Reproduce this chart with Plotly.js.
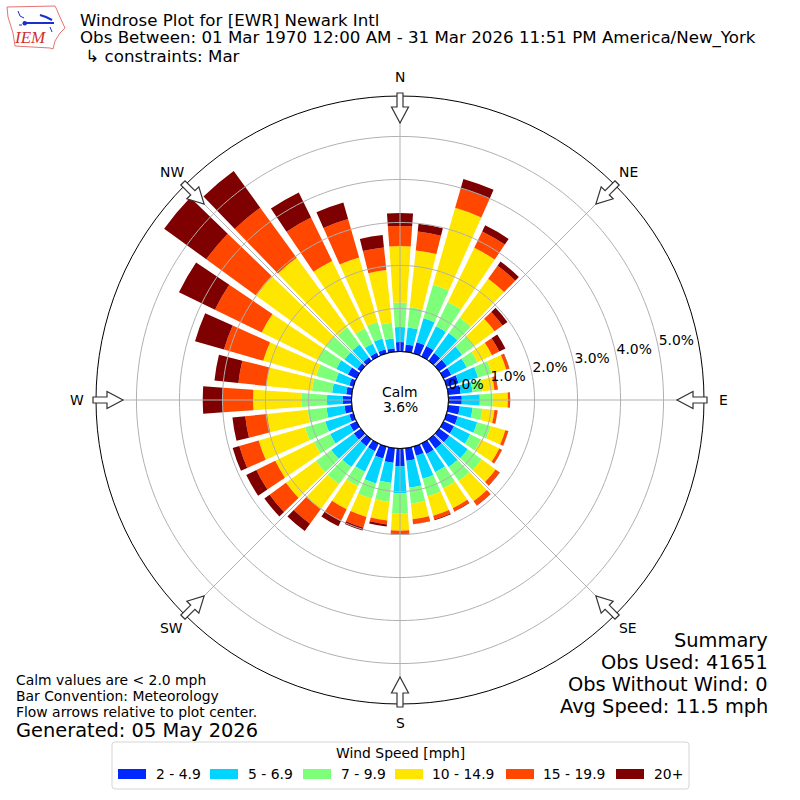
<!DOCTYPE html>
<html>
<head>
<meta charset="utf-8">
<script src="https://cdn.plot.ly/plotly-3.0.1.min.js"></script>
<style>html,body{margin:0;padding:0;background:#fff}</style>
</head>
<body>
<div id="myDiv" style="width:800px;height:800px"></div>
<script>
// direction the wind is from, every 10 degrees starting at north
var directions = [0,10,20,30,40,50,60,70,80,90,100,110,120,130,140,150,160,170,180,190,200,210,220,230,240,250,260,270,280,290,300,310,320,330,340,350];

var speed2to5 = [.22,.17,.27,.27,.22,.22,.20,.29,.29,.31,.27,.27,.27,.29,.27,.27,.22,.29,.41,.34,.29,.20,.20,.20,.17,.10,.17,.20,.13,.10,.22,.10,.10,.10,.10,.08];
var speed5to7 = [.35,.40,.58,.51,.58,.44,.40,.47,.28,.42,.30,.47,.42,.53,.53,.47,.56,.63,.63,.47,.60,.53,.60,.65,.51,.58,.42,.37,.33,.33,.30,.37,.37,.23,.26,.23];
var speed7to10 = [.57,.47,.81,.63,.44,.35,.28,.33,.23,.30,.23,.33,.28,.40,.40,.42,.42,.37,.47,.44,.37,.37,.49,.44,.42,.49,.44,.60,.47,.47,.49,.53,.49,.40,.40,.37];
var speed10to15 = [1.31,1.33,1.86,1.40,1.12,.58,.37,.35,.28,.35,.28,.35,.47,.40,.58,.51,.47,.37,.40,.44,.44,.60,.72,.86,1.00,1.12,.95,1.12,1.07,1.28,1.44,2.02,2.00,1.74,1.56,1.23];
var speed15to20 = [.47,.44,.47,.42,.37,.23,.19,.07,.07,.05,.07,.07,.07,.11,.12,.08,.09,.11,.09,.09,.26,.30,.42,.47,.49,.47,.51,.70,.65,.95,1.21,1.42,1.44,1.12,.93,.53];
var speed20up = [.30,.18,.23,.16,.12,.14,.16,.01,.01,.005,.005,.005,.005,.01,.01,.01,.02,.005,.005,.05,.07,.14,.21,.15,.26,.16,.30,.47,.56,.70,.93,1.21,1.05,.65,.40,.29];

var speedLabels = ['2 - 4.9','5 - 6.9','7 - 9.9','10 - 14.9','15 - 19.9','20+'];
var speedColors = ['#0028ff','#00d4ff','#7dff7a','#ffe600','#ff4700','#7f0000'];
var speedSeries = [speed2to5,speed5to7,speed7to10,speed10to15,speed15to20,speed20up];

var radialTicks = [0,1,2,3,4,5];
var compassAngles = [0,45,90,135,180,225,270,315];
var compassLabels = ['N','NE','E','SE','S','SW','W','NW'];

var titleLines = ['Windrose Plot for [EWR] Newark Intl','Obs Between: 01 Mar 1970 12:00 AM - 31 Mar 2026 11:51 PM America/New_York',' \u21b3 constraints: Mar'];
var summaryLines = ['Summary','Obs Used: 41651','Obs Without Wind: 0','Avg Speed: 11.5 mph'];
var noteLines = ['Calm values are < 2.0 mph','Bar Convention: Meteorology','Flow arrows relative to plot center.'];

var FONT = 'DejaVu Sans';
var CX = 400, CY = 400, RMAX = 304, RHOLE = 48.5, PCTMAX = 5.94;
var GRID = '#b0b0b0';

function px(x) { return x / 800; }
function py(y) { return 1 - y / 800; }

function label(text, x, y, size, anchor, extra) {
  var a = {text: text.replace(/ /g, '\u00a0'), xref: 'paper', yref: 'paper', x: px(x), y: py(y), showarrow: false,
    borderpad: 0, borderwidth: 0,
    xanchor: anchor || 'left', yanchor: 'middle', font: {family: FONT, size: size, color: '#000'}};
  for (var k in extra) a[k] = extra[k];
  return a;
}

var data = [];

speedSeries.forEach(function (vals, i) {
  data.push({
    type: 'barpolar', name: speedLabels[i], r: vals, theta: directions,
    width: directions.map(function () { return 8; }),
    marker: {color: speedColors[i], line: {width: 0}},
    showlegend: false, hoverinfo: 'name+r'
  });
});

// grid goes in as traces, the reference has it on top of the bars
var ringR = [], ringT = [];
radialTicks.slice(1).forEach(function (t) {
  for (var a = 0; a <= 360; a += 2) { ringR.push(t); ringT.push(a); }
  ringR.push(null); ringT.push(null);
});
compassAngles.forEach(function (a) {
  ringR.push(0, PCTMAX, null);
  ringT.push(a, a, null);
});
data.push({type: 'scatterpolar', mode: 'lines', r: ringR, theta: ringT, connectgaps: false,
  line: {color: GRID, width: 1}, showlegend: false, hoverinfo: 'skip'});

// black circle around the calm hole
var holeT = [];
for (var a = 0; a <= 360; a += 2) holeT.push(a);
data.push({type: 'scatterpolar', mode: 'lines', r: holeT.map(function () { return 0; }), theta: holeT,
  line: {color: '#000', width: 1}, showlegend: false, hoverinfo: 'skip'});

data.push({type: 'scatterpolar', mode: 'text',
  r: radialTicks.map(function (t) { return t + 0.44; }),
  theta: radialTicks.map(function () { return 78; }),
  text: radialTicks.map(function (t) { return t.toFixed(1) + '%'; }),
  textfont: {family: FONT, size: 13.9, color: '#000'},
  showlegend: false, hoverinfo: 'skip'});

// flow arrows, drawn in pixels around the plot centre
var arrowShape = [[-3,307],[3,307],[3,293],[8.5,293],[0,277],[-8.5,293],[-3,293]];
var shapes = compassAngles.map(function (deg) {
  var rad = deg * Math.PI / 180, s = Math.sin(rad), c = Math.cos(rad);
  var d = arrowShape.map(function (p, i) {
    var x = CX + p[1] * s + p[0] * c, y = CY - p[1] * c + p[0] * s;
    return (i ? 'L' : 'M') + px(x) + ',' + py(y);
  }).join('') + 'Z';
  return {type: 'path', xref: 'paper', yref: 'paper', path: d, fillcolor: '#fff', line: {color: '#333', width: 1.2}};
});

// legend box, plotly's own legend only has small square swatches
var legendSwatchX = [118,210,303,395,506,616];
var legendTextX = [155.5,247.7,340.7,432,542.8,653.8];
shapes.push({type: 'path', xref: 'paper', yref: 'paper', line: {color: '#d5d5d5', width: 1}, fillcolor: '#fff',
  path: 'M' + px(115) + ',' + py(742) + 'L' + px(686) + ',' + py(742) + 'Q' + px(689) + ',' + py(742) + ' ' + px(689) + ',' + py(745) +
    'L' + px(689) + ',' + py(786) + 'Q' + px(689) + ',' + py(789) + ' ' + px(686) + ',' + py(789) +
    'L' + px(115) + ',' + py(789) + 'Q' + px(112) + ',' + py(789) + ' ' + px(112) + ',' + py(786) +
    'L' + px(112) + ',' + py(745) + 'Q' + px(112) + ',' + py(742) + ' ' + px(115) + ',' + py(742) + 'Z'});
speedColors.forEach(function (col, i) {
  shapes.push({type: 'rect', xref: 'paper', yref: 'paper', x0: px(legendSwatchX[i]), x1: px(legendSwatchX[i] + 28),
    y0: py(769), y1: py(779), fillcolor: col, line: {width: 0}});
});

// IEM logo
function logoPath(pts) {
  return pts.map(function (p, i) { return (i ? 'L' : 'M') + px(p[0]) + ',' + py(p[1]); }).join('');
}
shapes.push({type: 'path', xref: 'paper', yref: 'paper', line: {color: '#e57373', width: 1},
  path: logoPath([[7,7],[55,6],[57,10],[59,15],[65,28],[60,33],[55,41],[53,49],[50,48],[15,46],[13,33],[8,17]]) + 'Z'});
shapes.push({type: 'path', xref: 'paper', yref: 'paper', line: {color: '#1a2fd0', width: 2},
  path: logoPath([[25,23],[54,23]])});
shapes.push({type: 'path', xref: 'paper', yref: 'paper', line: {color: '#1a2fd0', width: 2},
  path: logoPath([[40,15],[46,17],[52,20]])});
shapes.push({type: 'path', xref: 'paper', yref: 'paper', line: {color: '#1a2fd0', width: 1},
  path: logoPath([[18,11],[20,16],[24,18]]) + logoPath([[50,27],[52,32]]) + logoPath([[19,25],[22,25]])});
shapes.push({type: 'circle', xref: 'paper', yref: 'paper', x0: px(22.5), x1: px(27), y0: py(21), y1: py(25.5), fillcolor: '#1a2fd0', line: {width: 0}});

var annotations = [];
titleLines.forEach(function (t, i) { annotations.push(label(t, 80, 20 + i * 18, 16.67)); });
summaryLines.forEach(function (t, i) { annotations.push(label(t, 768, 640 + i * 22, 19.4, 'right')); });
noteLines.forEach(function (t, i) { annotations.push(label(t, 16, 680 + i * 16, 13.9)); });
annotations.push(label('Generated: 05 May 2026', 16, 730, 19.4));
annotations.push(label('Calm', 400, 392, 13.9, 'center'));
annotations.push(label('3.6%', 400, 407, 13.9, 'center'));
annotations.push(label('Wind Speed [mph]', 400, 753, 13.9, 'center'));
speedLabels.forEach(function (t, i) { annotations.push(label(t, legendTextX[i], 774, 13.9)); });
annotations.push(label('IEM', 30, 38, 17, 'center', {font: {family: 'Liberation Serif', size: 17, color: '#d32f2f'}, text: '<i>IEM</i>'}));
// compass labels sit further out than plotly's tick labels can go evenly
compassAngles.forEach(function (deg, i) {
  var rad = deg * Math.PI / 180;
  annotations.push(label(compassLabels[i], CX + 323 * Math.sin(rad), CY - 323 * Math.cos(rad), 13.9, 'center'));
});

var layout = {
  width: 800, height: 800,
  margin: {l: 0, r: 0, t: 0, b: 0},
  paper_bgcolor: '#fff',
  showlegend: false,
  polar: {
    domain: {x: [px(CX - RMAX), px(CX + RMAX)], y: [px(CX - RMAX), px(CX + RMAX)]},
    hole: RHOLE / RMAX,
    bgcolor: '#fff',
    barmode: 'stack',
    radialaxis: {range: [0, PCTMAX], visible: false, showgrid: false},
    angularaxis: {
      direction: 'clockwise', rotation: 90,
      showgrid: false, showline: true, linecolor: '#000', linewidth: 1,
      ticks: '', showticklabels: false
    }
  },
  shapes: shapes,
  annotations: annotations
};

Plotly.newPlot('myDiv', data, layout, {displayModeBar: false});
</script>
</body>
</html>
